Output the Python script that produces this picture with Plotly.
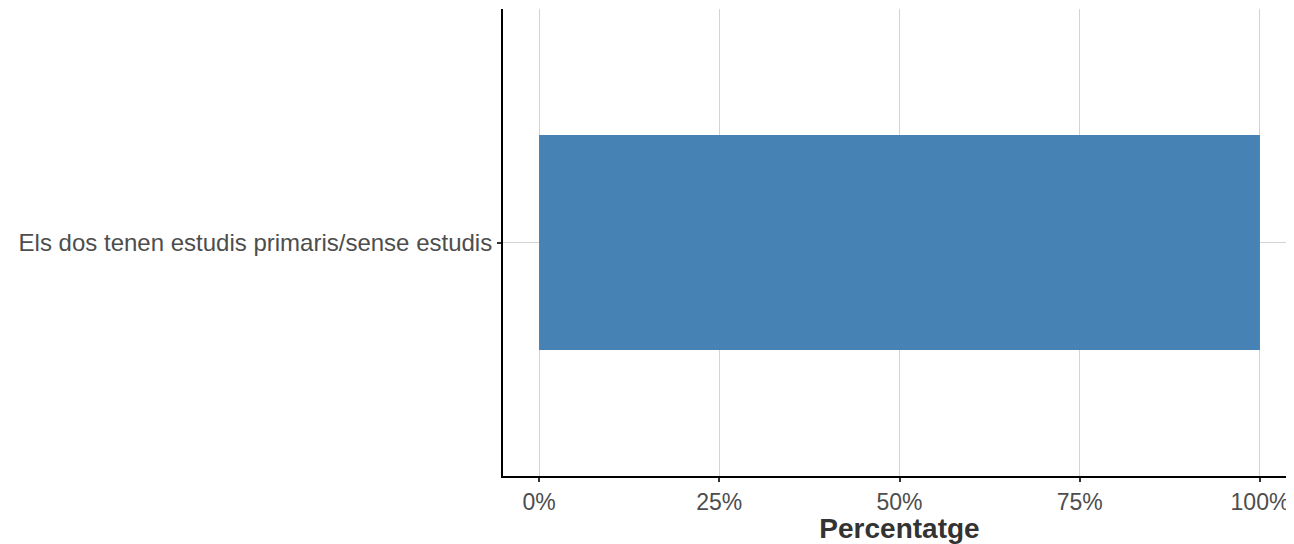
import plotly.graph_objects as go

categories = ["Els dos tenen estudis primaris/sense estudis"]
values = [100]
tick_vals = [0, 25, 50, 75, 100]
tick_text = ["0%", "25%", "50%", "75%", "100%"]

fig = go.Figure(go.Bar(
    x=values, y=categories, orientation="h",
    marker=dict(color="#4682B4", line=dict(width=0)),
    width=0.553,
))

fig.update_layout(
    width=1288, height=536,
    margin=dict(l=495, r=0, t=1, b=68),
    plot_bgcolor="white", paper_bgcolor="white",
    showlegend=False,
    font=dict(family="Liberation Sans, Arial, sans-serif"),
)
fig.update_xaxes(
    range=[-5, 105], tickvals=tick_vals, ticktext=tick_text,
    showgrid=True, gridcolor="#D3D3D3", gridwidth=1,
    showline=True, linecolor="black", linewidth=2,
    ticks="outside", ticklen=4, tickwidth=2, tickcolor="#333333",
    tickfont=dict(size=23, color="#4D4D4D"),
    title=dict(text="<b>Percentatge</b>", font=dict(size=28, color="#333333"), standoff=0),
    zeroline=False,
)
fig.update_yaxes(
    range=[-0.6, 0.6],
    showgrid=True, gridcolor="#D3D3D3", gridwidth=1,
    showline=True, linecolor="black", linewidth=2,
    ticks="outside", ticklen=4, tickwidth=2, tickcolor="#333333",
    tickfont=dict(size=24, color="#4D4D4D"),
    zeroline=False,
)

fig.write_html("out.html")
